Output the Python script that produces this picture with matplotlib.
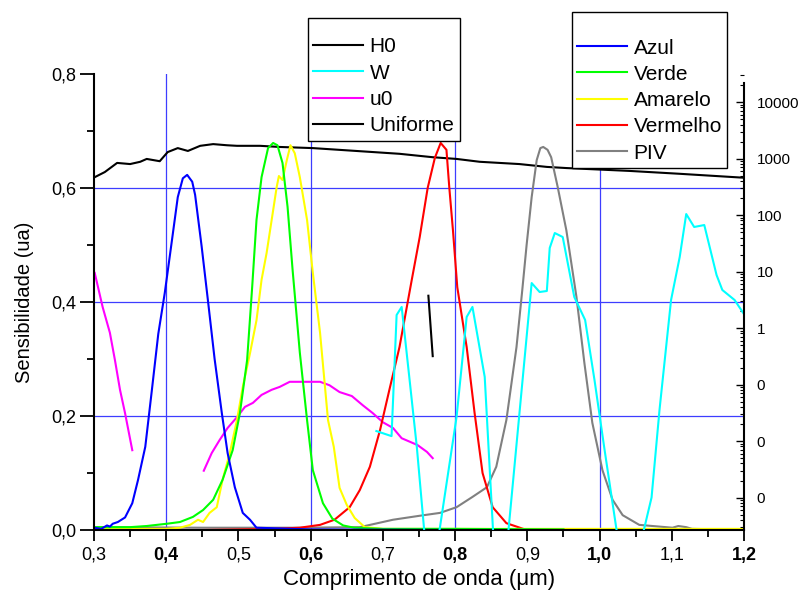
import matplotlib
matplotlib.use("Agg")
import matplotlib.pyplot as plt
from matplotlib.lines import Line2D
from matplotlib.ticker import MultipleLocator, FixedLocator, FuncFormatter, LogLocator, NullFormatter
import numpy as np

plt.rcParams['font.family'] = ['Liberation Sans', 'DejaVu Sans']

# --- data ---
h0_x = [0.301, 0.315, 0.332, 0.350, 0.364, 0.373, 0.391, 0.402, 0.416, 0.430, 0.447, 0.465, 0.484,
        0.498, 0.512, 0.530, 0.557, 0.603, 0.723, 0.769, 0.802, 0.834, 0.889, 0.927, 0.954, 1.041,
        1.11, 1.2]
h0_y = [0.619, 0.628, 0.644, 0.642, 0.646, 0.651, 0.647, 0.663, 0.670, 0.665, 0.674, 0.677, 0.675,
        0.674, 0.674, 0.674, 0.672, 0.670, 0.660, 0.654, 0.651, 0.646, 0.642, 0.637, 0.635, 0.630,
        0.625, 0.618]

uniforme_x = [0.763, 0.769]
uniforme_y = [0.411, 0.305]

u0_x = [0.301, 0.312, 0.322, 0.329, 0.336, 0.343, 0.353, np.nan,
        0.452, 0.463, 0.474, 0.485, 0.498, 0.509, 0.520, 0.532, 0.546, 0.557, 0.571, 0.595,
        0.613, 0.626, 0.640, 0.657, 0.672, 0.686, 0.700, 0.714, 0.726, 0.748, 0.761, 0.769]
u0_y = [0.451, 0.391, 0.346, 0.298, 0.246, 0.205, 0.140, np.nan,
        0.104, 0.135, 0.158, 0.179, 0.198, 0.216, 0.223, 0.237, 0.246, 0.251, 0.260, 0.260,
        0.260, 0.254, 0.242, 0.235, 0.219, 0.205, 0.189, 0.179, 0.161, 0.149, 0.137, 0.126]

# W on the right (log) axis
w_x = [0.691, 0.712, 0.719, 0.726, 0.737, 0.747, 0.758, 0.777, 0.802, 0.816, 0.824, 0.841, 0.853,
       0.873, 0.906, 0.917, 0.927, 0.931, 0.938, 0.949, 0.965, 0.980, 0.993, 1.007, 1.025, 1.059,
       1.072, 1.083, 1.099, 1.111, 1.120, 1.131, 1.145, 1.162, 1.170, 1.187, 1.199]
w_v = [0.0150, 0.0122, 1.70, 2.36, 0.120, 0.0078, 0.0002, 0.0002, 0.0266, 1.57, 2.36, 0.136, 0.0002,
       0.0002, 6.25, 4.34, 4.52, 26.1, 48.0, 40.8, 3.54, 1.39, 0.120, 0.0069, 0.0002, 0.0002,
       0.0010, 0.0354, 3.13, 18.1, 104.0, 61.4, 66.5, 8.67, 4.71, 3.13, 1.84]

azul_x = [0.300, 0.310, 0.318, 0.322, 0.326, 0.333, 0.343, 0.353, 0.361, 0.371, 0.380, 0.389, 0.398,
          0.408, 0.416, 0.423, 0.429, 0.436, 0.440, 0.449, 0.458, 0.467, 0.477, 0.485, 0.495, 0.506,
          0.516, 0.525, 0.600, 0.800, 0.950]
azul_y = [0.004, 0.002, 0.008, 0.006, 0.011, 0.014, 0.022, 0.047, 0.088, 0.146, 0.244, 0.344, 0.416,
          0.509, 0.584, 0.617, 0.623, 0.611, 0.588, 0.498, 0.400, 0.300, 0.205, 0.135, 0.075, 0.030,
          0.018, 0.004, 0.001, 0.0, 0.0]

verde_x = [0.300, 0.350, 0.373, 0.401, 0.419, 0.437, 0.451, 0.465, 0.478, 0.492, 0.502, 0.512, 0.519,
           0.525, 0.532, 0.541, 0.548, 0.554, 0.561, 0.568, 0.575, 0.585, 0.595, 0.603, 0.617, 0.630,
           0.645, 0.660, 0.700, 0.800, 0.950]
verde_y = [0.005, 0.005, 0.007, 0.011, 0.014, 0.023, 0.035, 0.053, 0.088, 0.140, 0.205, 0.298, 0.426,
           0.544, 0.619, 0.670, 0.679, 0.675, 0.644, 0.567, 0.456, 0.311, 0.193, 0.105, 0.047, 0.020,
           0.008, 0.004, 0.002, 0.002, 0.001]

amarelo_x = [0.300, 0.400, 0.419, 0.433, 0.444, 0.451, 0.460, 0.470, 0.478, 0.488, 0.498, 0.506, 0.516,
             0.525, 0.532, 0.539, 0.546, 0.553, 0.556, 0.561, 0.567, 0.572, 0.578, 0.585, 0.595, 0.603,
             0.613, 0.624, 0.632, 0.640, 0.650, 0.661, 0.675, 0.700, 0.900, 1.200]
amarelo_y = [0.002, 0.002, 0.004, 0.009, 0.018, 0.014, 0.030, 0.040, 0.088, 0.135, 0.193, 0.251, 0.310,
             0.368, 0.439, 0.486, 0.544, 0.602, 0.621, 0.614, 0.649, 0.675, 0.661, 0.619, 0.544, 0.451,
             0.346, 0.193, 0.146, 0.074, 0.044, 0.021, 0.005, 0.002, 0.002, 0.002]

vermelho_x = [0.300, 0.450, 0.550, 0.585, 0.613, 0.633, 0.654, 0.668, 0.682, 0.696, 0.709, 0.723, 0.740,
              0.751, 0.762, 0.772, 0.780, 0.788, 0.792, 0.797, 0.803, 0.816, 0.827, 0.838, 0.852, 0.871,
              0.899, 1.000, 1.200]
vermelho_y = [0.000, 0.000, 0.002, 0.004, 0.009, 0.018, 0.040, 0.070, 0.111, 0.175, 0.246, 0.321, 0.439,
              0.514, 0.600, 0.653, 0.679, 0.667, 0.600, 0.526, 0.426, 0.321, 0.205, 0.100, 0.040, 0.012,
              0.000, 0.000, 0.000]

piv_x = [0.300, 0.447, 0.585, 0.668, 0.714, 0.751, 0.779, 0.802, 0.824, 0.844, 0.857, 0.871, 0.885,
         0.893, 0.899, 0.906, 0.913, 0.918, 0.922, 0.928, 0.933, 0.942, 0.954, 0.968, 0.979, 0.990,
         1.004, 1.018, 1.032, 1.055, 1.101, 1.109, 1.120, 1.128, 1.199]
piv_y = [0.005, 0.004, 0.004, 0.005, 0.018, 0.025, 0.030, 0.040, 0.058, 0.075, 0.111, 0.193, 0.321,
         0.421, 0.500, 0.584, 0.649, 0.670, 0.672, 0.667, 0.654, 0.602, 0.526, 0.409, 0.293, 0.188,
         0.105, 0.053, 0.026, 0.009, 0.004, 0.007, 0.005, 0.002, 0.000]

x_ticks = [0.3, 0.4, 0.5, 0.6, 0.7, 0.8, 0.9, 1.0, 1.1, 1.2]
x_labels = ['0,3', '0,4', '0,5', '0,6', '0,7', '0,8', '0,9', '1,0', '1,1', '1,2']
y_ticks = [0.0, 0.2, 0.4, 0.6, 0.8]
y_labels = ['0,0', '0,2', '0,4', '0,6', '0,8']
right_ticks = [0.001, 0.01, 0.1, 1, 10, 100, 1000, 10000]

# --- figure ---
fig = plt.figure(figsize=(8.05, 5.98), dpi=100)
ax = fig.add_axes([94/805, 68/598, 650/805, 456/598])
ax2 = ax.twinx()

grid_c = '#3d3dff'
for v in [0.4, 0.6, 0.8, 1.0]:
    ax.axvline(v, color=grid_c, lw=0.9, zorder=0.5)
for v in [0.2, 0.4, 0.6]:
    ax.axhline(v, color=grid_c, lw=0.9, zorder=0.5)

lw = 1.5
ax.plot(h0_x, h0_y, color='black', lw=lw)
ax.plot(uniforme_x, uniforme_y, color='black', lw=lw)
ax.plot(u0_x, u0_y, color='#ff00ff', lw=lw)
ax.plot(piv_x, piv_y, color='#808080', lw=lw)
ax.plot(vermelho_x, vermelho_y, color='#ff0000', lw=lw)
ax.plot(amarelo_x, amarelo_y, color='#ffff00', lw=lw)
ax.plot(verde_x, verde_y, color='#00ff00', lw=lw)
ax.plot(azul_x, azul_y, color='#0000ff', lw=lw)
ax2.plot(w_x, w_v, color='#00ffff', lw=lw)

ax.set_xlim(0.3, 1.2)
ax.set_ylim(0.0, 0.8)
ax2.set_yscale('log')
ax2.set_ylim(10**-3.575, 10**4.496)

ax.spines['top'].set_visible(False)
ax2.spines['top'].set_visible(False)
ax2.spines['left'].set_visible(False)
ax2.spines['bottom'].set_visible(False)
ax.spines['right'].set_visible(False)
for s in ['left', 'bottom']:
    ax.spines[s].set_linewidth(1.5)
ax2.spines['right'].set_linewidth(1.5)
ax2.spines['right'].set_bounds(10**-3.575, 10**4.336)

ax.xaxis.set_major_locator(FixedLocator(x_ticks))
ax.set_xticklabels(x_labels, fontsize=13)
for t, lab in zip(ax.get_xticklabels(), x_labels):
    if lab in ['0,4', '0,6', '0,8', '1,0', '1,2']:
        t.set_fontweight('bold')
ax.xaxis.set_minor_locator(MultipleLocator(0.05))
ax.tick_params(axis='x', which='major', direction='out', length=8, width=1.3, pad=4)
ax.tick_params(axis='x', which='minor', direction='out', length=5, width=1.3)

ax.yaxis.set_major_locator(FixedLocator(y_ticks))
ax.set_yticklabels(y_labels, fontsize=13)
ax.yaxis.set_minor_locator(MultipleLocator(0.1))
ax.tick_params(axis='y', which='major', direction='out', length=10, width=1.3, pad=3)
ax.tick_params(axis='y', which='minor', direction='out', length=5, width=1.3)

ax2.yaxis.set_major_locator(FixedLocator(right_ticks))
ax2.yaxis.set_minor_locator(LogLocator(base=10, subs=np.arange(2, 10), numticks=20))
ax2.yaxis.set_major_formatter(FuncFormatter(lambda v, p: '%d' % v))
ax2.yaxis.set_minor_formatter(NullFormatter())
ax2.tick_params(axis='y', which='major', direction='in', length=6, width=1.0, pad=9, labelsize=11)
ax2.tick_params(axis='y', which='minor', direction='in', length=3, width=0.8)

ax.set_xlabel('Comprimento de onda (\u03bcm)', fontsize=16, labelpad=4)
ax.set_ylabel('Sensibilidade (ua)', fontsize=14.5, labelpad=12)

# --- legends ---
def h(c):
    return Line2D([], [], color=c, lw=lw)

leg_kw = dict(loc='upper left', bbox_transform=fig.transFigure, borderaxespad=0, fontsize=15,
              frameon=True, fancybox=False, shadow=False, framealpha=1, edgecolor='black',
              handlelength=2.4, handletextpad=0.3, labelspacing=0.35, borderpad=0.25,
              title=' ')
l1 = fig.legend([h('black'), h('#00ffff'), h('#ff00ff'), h('black')], ['H0', 'W', 'u0', 'Uniforme'],
                bbox_to_anchor=(308/805, 1 - 18/598), title_fontsize=6, **leg_kw)
l2 = fig.legend([h('#0000ff'), h('#00ff00'), h('#ffff00'), h('#ff0000'), h('#808080')],
                ['Azul', 'Verde', 'Amarelo', 'Vermelho', 'PIV'],
                bbox_to_anchor=(572/805, 1 - 12/598), title_fontsize=11, **leg_kw)
for l in (l1, l2):
    l.get_frame().set_linewidth(1.0)

fig.savefig('out.png', dpi=100)
